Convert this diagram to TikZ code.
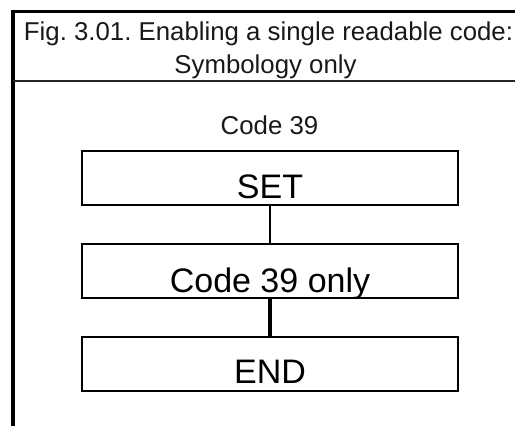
\documentclass[tikz,border=0pt]{standalone}
\usepackage{fontspec}
\setmainfont{Liberation Sans}
\frenchspacing
\begin{document}
\begin{tikzpicture}[x=1pt,y=-1pt,
  frameline/.style={line width=2.5pt,black},
  stepbox/.style={draw,line width=2pt,minimum width=376pt,inner xsep=0pt,inner ysep=0pt,anchor=base,font=\fontsize{34}{36}\selectfont},
  titletext/.style={anchor=base,inner sep=0pt,font=\fontsize{25.8}{28}\selectfont,text=black!90},
  link/.style={line width=2pt}]
\useasboundingbox (0,0) rectangle (515,426);
% frame
\coordinate (tl) at (13,11.3);
\coordinate (tr) at (515,11.3);
\coordinate (bl) at (13,426);
\coordinate (sl) at (13,81);
\coordinate (sr) at (515,81);
\draw[frameline] (tl) -- (tr);
\draw[line width=3.5pt] (13,9.5) -- (bl);
\draw[frameline,black!85] (sl) -- (sr);
% title
\node[titletext] (t1) at (268.5,40.5) {Fig. 3.01. Enabling a single readable code:};
\node[titletext] (t2) at (265.5,73) {Symbology only};
\node[titletext] (lab) at (269.5,134.5) {Code 39};
% boxes
\node[stepbox,text height=47pt,text depth=7pt] (set) at (270,198) {SET};
\node[stepbox,text height=48pt,text depth=6pt] (code) at (270,292) {Code 39 only};
\node[stepbox,text height=46pt,text depth=8pt] (end) at (270,383) {END};
\draw[link] (set.south) -- (code.north);
\draw[link,line width=3.5pt] (code.south) -- (end.north);
\end{tikzpicture}
\end{document}
